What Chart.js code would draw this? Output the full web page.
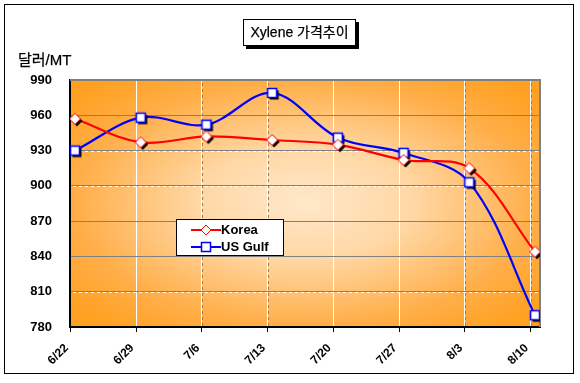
<!DOCTYPE html>
<html>
<head>
<meta charset="utf-8">
<script src="https://cdn.jsdelivr.net/npm/chart.js@4/dist/chart.umd.min.js"></script>
<style>
html,body{margin:0;padding:0;background:#fff;}
#wrap{position:relative;width:580px;height:383px;overflow:hidden;font-family:"Liberation Sans","Noto Sans CJK KR",sans-serif;}
#c{position:absolute;left:0;top:0;}
#frame{position:absolute;left:4px;top:4px;width:570px;height:370px;border:1px solid #000;box-sizing:border-box;pointer-events:none;}
#title{position:absolute;left:243px;top:19px;width:113px;height:27px;box-sizing:border-box;border:1px solid #000;background:#fff;box-shadow:3px 3px 0 #000;font-size:14px;line-height:25px;text-align:center;color:#000;white-space:nowrap;-webkit-text-stroke:0.25px #000;}
#ylab{position:absolute;left:18px;top:50px;font-size:15px;line-height:20px;color:#000;white-space:nowrap;-webkit-text-stroke:0.25px #000;}
#legend{position:absolute;left:176px;top:219px;width:108px;height:37px;box-sizing:border-box;border:1px solid #000;background:#fff;}
.row{position:absolute;left:0;height:16px;width:106px;}
.row svg{position:absolute;left:14px;top:2px;}
.row span{position:absolute;left:44px;top:0;font-size:13px;font-weight:bold;line-height:16px;color:#000;white-space:nowrap;}
</style>
</head>
<body>
<div id="wrap">
<canvas id="c" width="580" height="383"></canvas>
<div id="frame"></div>
<div id="title">Xylene 가격추이</div>
<div id="ylab">달러/MT</div>
<div id="legend">
  <div class="row" style="top:2px"><svg width="30" height="12"><line x1="0" y1="6" x2="30" y2="6" stroke="#f00" stroke-width="2"/><polygon points="15,1 20,6 15,11 10,6" fill="#fff" stroke="#f00" stroke-width="1"/></svg><span>Korea</span></div>
  <div class="row" style="top:19px"><svg width="30" height="12"><line x1="0" y1="6" x2="30" y2="6" stroke="#00f" stroke-width="2"/><rect x="10.5" y="1.5" width="9" height="9" fill="#fff" stroke="#00f" stroke-width="1.5"/></svg><span>US Gulf</span></div>
</div>
</div>
<script>
const categories = ['6/22','6/29','7/6','7/13','7/20','7/27','8/3','8/10'];
const korea = [957, 937, 942, 939, 935, 922, 915, 844];
const usGulf = [930, 958, 952, 979, 941, 928, 903, 790];
const yMin = 780, yMax = 990, yStep = 30;

function makeMarker(kind){
  const c = document.createElement('canvas');
  c.width = 20; c.height = 20;
  const g = c.getContext('2d');
  const cx = 10, cy = 10;
  function shape(ox, oy){
    g.beginPath();
    if (kind === 'diamond'){
      g.moveTo(cx+ox, cy-5.5+oy); g.lineTo(cx+5.5+ox, cy+oy);
      g.lineTo(cx+ox, cy+5.5+oy); g.lineTo(cx-5.5+ox, cy+oy);
    } else {
      g.rect(cx-4.5+ox, cy-4.5+oy, 9, 9);
    }
    g.closePath();
  }
  shape(2, 2); g.fillStyle = '#000'; g.fill();
  shape(0, 0); g.fillStyle = '#fff'; g.fill();
  g.lineWidth = kind === 'diamond' ? 1 : 1.6;
  g.strokeStyle = kind === 'diamond' ? '#f00' : '#00f';
  g.stroke();
  return c;
}

const bgPlugin = {
  id: 'bg',
  beforeDraw(chart){
    const {ctx, chartArea: a} = chart;
    const cx = (a.left + a.right)/2, cy = (a.top + a.bottom)/2;
    const rx = (a.right - a.left)/2 * 1.05, ry = (a.bottom - a.top)/2 * 1.05;
    ctx.save();
    ctx.beginPath(); ctx.rect(a.left, a.top, a.right - a.left, a.bottom - a.top); ctx.clip();
    ctx.translate(cx, cy); ctx.scale(rx/ry, 1);
    const gr = ctx.createRadialGradient(0, 0, 0, 0, 0, ry * 1.25);
    gr.addColorStop(0, '#FFE8CA');
    gr.addColorStop(0.35, '#FFD7A4');
    gr.addColorStop(0.75, '#FFAE48');
    gr.addColorStop(1, '#FFA020');
    ctx.fillStyle = gr;
    ctx.fillRect(-rx*2, -ry*2, rx*4, ry*4);
    ctx.restore();
    ctx.save();
    ctx.strokeStyle = '#fff'; ctx.lineWidth = 1; ctx.setLineDash([3,3]); ctx.lineDashOffset = 3;
    const ys = chart.scales.y, xs = chart.scales.x;
    ys.ticks.forEach(t => {
      const y = Math.round(ys.getPixelForValue(t.value)) + 0.5;
      if (t.value === yMin) return;
      ctx.beginPath(); ctx.moveTo(a.left, y); ctx.lineTo(a.right, y); ctx.stroke();
    });
    xs.ticks.forEach((t, i) => {
      if (i === 0) return;
      const x = Math.round(xs.getPixelForValue(t.value)) + 0.5;
      ctx.strokeStyle = '#808080';
      ctx.beginPath(); ctx.moveTo(x, a.top); ctx.lineTo(x, a.bottom); ctx.stroke();
    });
    ctx.restore();
  },
  beforeDatasetsDraw(chart){
    const {ctx, chartArea: a} = chart;
    ctx.save();
    ctx.strokeStyle = '#808080'; ctx.lineWidth = 2;
    ctx.beginPath();
    ctx.moveTo(a.left, a.top); ctx.lineTo(a.right, a.top); ctx.lineTo(a.right, a.bottom);
    ctx.stroke();
    ctx.restore();
  }
};

Chart.defaults.font.family = '"Liberation Sans", Arial, sans-serif';
Chart.defaults.color = '#000';

new Chart(document.getElementById('c'), {
  type: 'line',
  data: {
    datasets: [
      {
        label: 'Korea',
        data: korea.map((v, i) => ({x: i, y: v})),
        borderColor: '#ff0000', borderWidth: 2.2,
        pointStyle: makeMarker('diamond'), pointRadius: 6,
        tension: 0.35, fill: false
      },
      {
        label: 'US Gulf',
        data: usGulf.map((v, i) => ({x: i, y: v})),
        borderColor: '#0000ff', borderWidth: 2.2,
        pointStyle: makeMarker('square'), pointRadius: 6,
        tension: 0.35, fill: false
      }
    ]
  },
  options: {
    responsive: false,
    animation: false,
    devicePixelRatio: 1,
    layout: {padding: {top: 80, right: 40, left: 0, bottom: 0}},
    plugins: {legend: {display: false}, tooltip: {enabled: false}, title: {display: false}},
    scales: {
      x: {
        type: 'linear',
        min: -0.076, max: 7.076,
        afterBuildTicks(scale){ scale.ticks = categories.map((c, i) => ({value: i - 0.068})); },
        afterFit(scale){ scale.height = 56; },
        ticks: {
          autoSkip: false, minRotation: 45, maxRotation: 45,
          font: {size: 12, weight: 'bold'}, color: '#000', padding: 9, labelOffset: -4,
          callback: (v, i) => categories[i]
        },
        grid: {color: '#ffffff', borderDash: [3,3], lineWidth: 1, tickColor: '#000', tickLength: 5, tickBorderDash: []},
        border: {color: '#000', width: 2}
      },
      y: {
        min: yMin, max: yMax,
        afterFit(scale){ scale.width = 70; },
        ticks: {stepSize: yStep, font: {size: 13, weight: 'bold'}, color: '#000', padding: 18},
        grid: {color: '#808080', borderDash: [3,3], lineWidth: 1, drawTicks: false},
        border: {color: '#000', width: 2}
      }
    }
  },
  plugins: [bgPlugin]
});
</script>
</body>
</html>
